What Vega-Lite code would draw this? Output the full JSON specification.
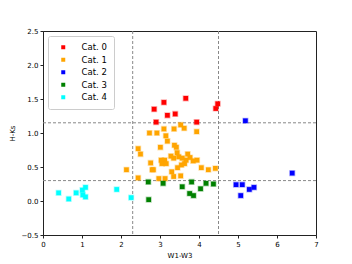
{
  "$schema": "https://vega.github.io/schema/vega-lite/v6.json",
  "autosize": "none",
  "width": 273,
  "height": 204,
  "padding": {"left": 43, "top": 31, "right": 36, "bottom": 29},
  "background": "white",
  "config": {
    "font": "DejaVu Sans",
    "view": {"stroke": "#222", "strokeWidth": 1},
    "axis": {"labelFont": "DejaVu Sans", "titleFont": "DejaVu Sans", "labelFontSize": 7, "titleFontSize": 7, "titleFontWeight": "normal", "labelColor": "#000", "titleColor": "#000", "domainColor": "#222", "tickColor": "#222", "tickSize": 3, "grid": false, "labelOverlap": false, "labelFlush": false, "labelBound": false}
  },
  "datasets": {
    "pts": [
      {"x": 2.85, "y": 1.35, "cat": "Cat. 0"},
      {"x": 3.10, "y": 1.45, "cat": "Cat. 0"},
      {"x": 3.19, "y": 1.26, "cat": "Cat. 0"},
      {"x": 3.39, "y": 1.28, "cat": "Cat. 0"},
      {"x": 3.66, "y": 1.51, "cat": "Cat. 0"},
      {"x": 2.90, "y": 1.16, "cat": "Cat. 0"},
      {"x": 3.94, "y": 1.16, "cat": "Cat. 0"},
      {"x": 4.43, "y": 1.36, "cat": "Cat. 0"},
      {"x": 4.48, "y": 1.43, "cat": "Cat. 0"},
      {"x": 3.53, "y": 1.12, "cat": "Cat. 1"},
      {"x": 3.62, "y": 1.07, "cat": "Cat. 1"},
      {"x": 2.73, "y": 1.00, "cat": "Cat. 1"},
      {"x": 2.92, "y": 1.00, "cat": "Cat. 1"},
      {"x": 3.10, "y": 1.06, "cat": "Cat. 1"},
      {"x": 3.36, "y": 1.06, "cat": "Cat. 1"},
      {"x": 3.94, "y": 1.02, "cat": "Cat. 1"},
      {"x": 3.15, "y": 0.96, "cat": "Cat. 1"},
      {"x": 3.19, "y": 0.88, "cat": "Cat. 1"},
      {"x": 3.37, "y": 0.82, "cat": "Cat. 1"},
      {"x": 3.42, "y": 0.79, "cat": "Cat. 1"},
      {"x": 3.01, "y": 0.79, "cat": "Cat. 1"},
      {"x": 2.44, "y": 0.77, "cat": "Cat. 1"},
      {"x": 2.50, "y": 0.69, "cat": "Cat. 1"},
      {"x": 3.44, "y": 0.71, "cat": "Cat. 1"},
      {"x": 3.28, "y": 0.66, "cat": "Cat. 1"},
      {"x": 3.35, "y": 0.63, "cat": "Cat. 1"},
      {"x": 3.48, "y": 0.65, "cat": "Cat. 1"},
      {"x": 3.57, "y": 0.63, "cat": "Cat. 1"},
      {"x": 3.71, "y": 0.69, "cat": "Cat. 1"},
      {"x": 3.77, "y": 0.64, "cat": "Cat. 1"},
      {"x": 3.95, "y": 0.60, "cat": "Cat. 1"},
      {"x": 3.85, "y": 0.59, "cat": "Cat. 1"},
      {"x": 3.67, "y": 0.60, "cat": "Cat. 1"},
      {"x": 3.63, "y": 0.55, "cat": "Cat. 1"},
      {"x": 3.55, "y": 0.53, "cat": "Cat. 1"},
      {"x": 3.03, "y": 0.60, "cat": "Cat. 1"},
      {"x": 3.12, "y": 0.60, "cat": "Cat. 1"},
      {"x": 3.05, "y": 0.55, "cat": "Cat. 1"},
      {"x": 3.16, "y": 0.55, "cat": "Cat. 1"},
      {"x": 2.76, "y": 0.56, "cat": "Cat. 1"},
      {"x": 3.45, "y": 0.49, "cat": "Cat. 1"},
      {"x": 3.30, "y": 0.43, "cat": "Cat. 1"},
      {"x": 3.35, "y": 0.36, "cat": "Cat. 1"},
      {"x": 3.53, "y": 0.37, "cat": "Cat. 1"},
      {"x": 2.83, "y": 0.46, "cat": "Cat. 1"},
      {"x": 2.80, "y": 0.46, "cat": "Cat. 1"},
      {"x": 4.06, "y": 0.49, "cat": "Cat. 1"},
      {"x": 4.24, "y": 0.46, "cat": "Cat. 1"},
      {"x": 4.42, "y": 0.48, "cat": "Cat. 1"},
      {"x": 2.44, "y": 0.34, "cat": "Cat. 1"},
      {"x": 2.97, "y": 0.33, "cat": "Cat. 1"},
      {"x": 3.13, "y": 0.33, "cat": "Cat. 1"},
      {"x": 2.14, "y": 0.46, "cat": "Cat. 1"},
      {"x": 5.19, "y": 1.18, "cat": "Cat. 2"},
      {"x": 6.39, "y": 0.41, "cat": "Cat. 2"},
      {"x": 4.95, "y": 0.24, "cat": "Cat. 2"},
      {"x": 5.11, "y": 0.24, "cat": "Cat. 2"},
      {"x": 5.07, "y": 0.08, "cat": "Cat. 2"},
      {"x": 5.29, "y": 0.17, "cat": "Cat. 2"},
      {"x": 5.41, "y": 0.20, "cat": "Cat. 2"},
      {"x": 2.70, "y": 0.28, "cat": "Cat. 3"},
      {"x": 3.08, "y": 0.26, "cat": "Cat. 3"},
      {"x": 2.71, "y": 0.02, "cat": "Cat. 3"},
      {"x": 3.57, "y": 0.21, "cat": "Cat. 3"},
      {"x": 3.81, "y": 0.28, "cat": "Cat. 3"},
      {"x": 3.76, "y": 0.11, "cat": "Cat. 3"},
      {"x": 3.86, "y": 0.08, "cat": "Cat. 3"},
      {"x": 4.04, "y": 0.18, "cat": "Cat. 3"},
      {"x": 4.18, "y": 0.26, "cat": "Cat. 3"},
      {"x": 4.37, "y": 0.25, "cat": "Cat. 3"},
      {"x": 0.40, "y": 0.12, "cat": "Cat. 4"},
      {"x": 0.66, "y": 0.03, "cat": "Cat. 4"},
      {"x": 0.85, "y": 0.12, "cat": "Cat. 4"},
      {"x": 1.01, "y": 0.16, "cat": "Cat. 4"},
      {"x": 1.09, "y": 0.20, "cat": "Cat. 4"},
      {"x": 1.02, "y": 0.09, "cat": "Cat. 4"},
      {"x": 1.09, "y": 0.06, "cat": "Cat. 4"},
      {"x": 1.89, "y": 0.17, "cat": "Cat. 4"},
      {"x": 2.26, "y": 0.05, "cat": "Cat. 4"}
    ],
    "vlines": [{"v": 2.3}, {"v": 4.5}],
    "hlines": [{"v": 0.3}, {"v": 1.15}]
  },
  "layer": [
    {
      "data": {"name": "vlines"},
      "mark": {"type": "rule", "color": "#888", "strokeDash": [3, 2], "strokeWidth": 1},
      "encoding": {"x": {"field": "v", "type": "quantitative", "title": "W1-W3", "scale": {"domain": [0, 7], "nice": false, "zero": false},
              "axis": {"values": [0, 1, 2, 3, 4, 5, 6, 7], "format": "d", "titlePadding": 4, "labelOverlap": false, "labelFlush": false, "labelBound": false}}}
    },
    {
      "data": {"name": "hlines"},
      "mark": {"type": "rule", "color": "#888", "strokeDash": [3, 2], "strokeWidth": 1},
      "encoding": {"y": {"field": "v", "type": "quantitative", "title": "H-Ks", "scale": {"domain": [-0.5, 2.5], "nice": false, "zero": false},
              "axis": {"values": [-0.5, 0, 0.5, 1, 1.5, 2, 2.5], "format": ".1f", "titlePadding": 6, "labelOverlap": false, "labelFlush": false, "labelBound": false}}}
    },
    {
      "data": {"name": "pts"},
      "mark": {"type": "point", "shape": "square", "filled": true, "size": 22, "opacity": 1, "strokeWidth": 1.5, "strokeOpacity": 0.3},
      "encoding": {
        "x": {"field": "x", "type": "quantitative", "title": "W1-W3", "scale": {"domain": [0, 7], "nice": false, "zero": false},
              "axis": {"values": [0, 1, 2, 3, 4, 5, 6, 7], "format": "d", "titlePadding": 4, "labelOverlap": false, "labelFlush": false, "labelBound": false}},
        "y": {"field": "y", "type": "quantitative", "title": "H-Ks", "scale": {"domain": [-0.5, 2.5], "nice": false, "zero": false},
              "axis": {"values": [-0.5, 0, 0.5, 1, 1.5, 2, 2.5], "format": ".1f", "titlePadding": 6, "labelOverlap": false, "labelFlush": false, "labelBound": false}},
        "color": {"field": "cat", "type": "nominal",
                  "scale": {"domain": ["Cat. 0", "Cat. 1", "Cat. 2", "Cat. 3", "Cat. 4"], "range": ["#ff0000", "#ffa500", "#0000ff", "#008000", "#00ffff"]},
                  "legend": {"title": null, "orient": "none", "legendX": 5, "legendY": 5, "symbolType": "square", "symbolSize": 16, "labelFontSize": 8.5, "labelFont": "DejaVu Sans", "labelColor": "#000", "padding": 7, "rowPadding": 3.5, "labelOffset": 14, "strokeColor": "#ccc", "fillColor": "white", "cornerRadius": 2, "symbolStrokeWidth": 0, "symbolOffset": 4}},
        "stroke": {"field": "cat", "type": "nominal", "legend": null,
                   "scale": {"domain": ["Cat. 0", "Cat. 1", "Cat. 2", "Cat. 3", "Cat. 4"], "range": ["#ff0000", "#ffa500", "#0000ff", "#008000", "#00ffff"]}}
      }
    }
  ]
}
